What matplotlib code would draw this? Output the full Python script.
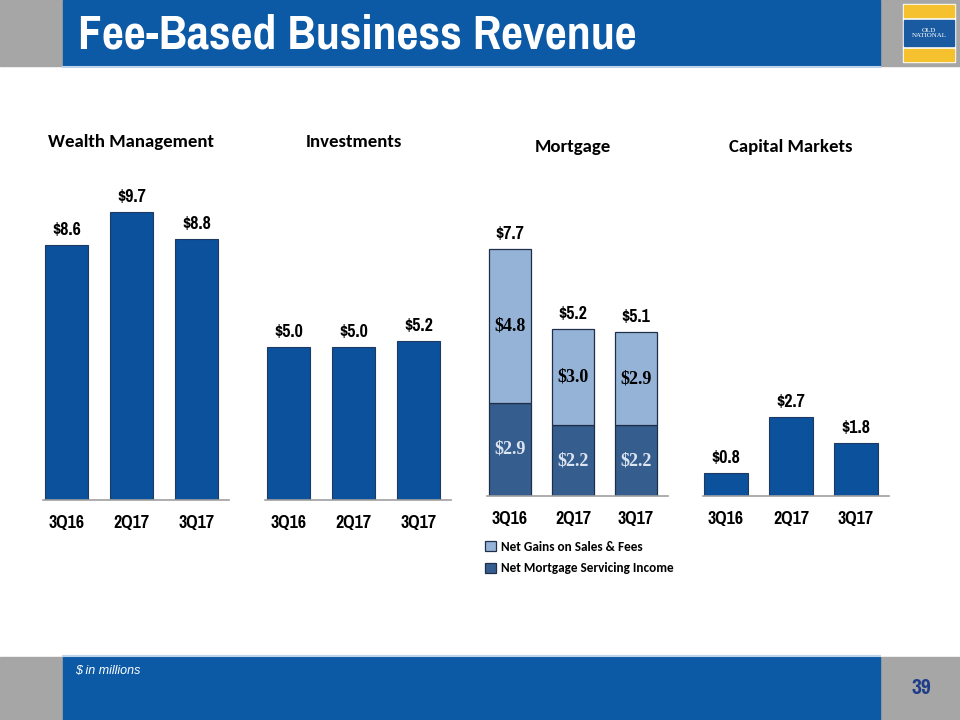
import matplotlib
matplotlib.use("Agg")
import matplotlib.pyplot as plt
from matplotlib.patches import Rectangle
from matplotlib import font_manager

# ---- data ($ in millions) ----
quarters = ["3Q16", "2Q17", "3Q17"]
wealth = [8.6, 9.7, 8.8]
investments = [5.0, 5.0, 5.2]
mort_servicing = [2.9, 2.2, 2.2]
mort_gains = [4.8, 3.0, 2.9]
mort_total = [7.7, 5.2, 5.1]
capital = [0.8, 2.7, 1.8]

names = {f.name for f in font_manager.fontManager.ttflist}


def pick(cands):
    for c in cands:
        if c in names:
            return c
    return "DejaVu Sans"


NARROW = pick(["Liberation Sans Narrow", "Arial Narrow", "Pragati Narrow",
               "Archivo Narrow", "Roboto Condensed", "PT Sans Narrow",
               "Open Sans Condensed"])
TITLEF = pick(["Carlito", "Calibri", "Lato", "Open Sans"])
SERIF = pick(["Liberation Serif", "Tinos", "DejaVu Serif"])

BLUE = "#0B519C"
DARK = "#355E8E"
LIGHT = "#95B3D7"
HEAD = "#0C5AA6"
GREY = "#A6A6A6"

W, H = 960, 720
fig = plt.figure(figsize=(9.6, 7.2), dpi=100)
fig.patch.set_facecolor("white")

# background layer in pixel coords
bg = fig.add_axes([0, 0, 1, 1], zorder=0)
bg.set_xlim(0, W)
bg.set_ylim(H, 0)
bg.axis("off")

bg.add_patch(Rectangle((0, 0), W, 66, color=GREY))
bg.add_patch(Rectangle((63, 0), 817, 66, color=HEAD))
bg.add_patch(Rectangle((0, 657), W, 63, color=GREY))
bg.add_patch(Rectangle((63, 657), 817, 63, color=HEAD))
bg.plot([63, 880], [67, 67], color="#BFD3EA", lw=1.5)
bg.plot([63, 880], [656, 656], color="#BFD3EA", lw=1.5)

# logo
bg.add_patch(Rectangle((903, 4), 52, 58, color="white"))
bg.add_patch(Rectangle((904, 5), 50, 12, color="#F5C12E"))
bg.add_patch(Rectangle((904, 49), 50, 12, color="#F5C12E"))
bg.add_patch(Rectangle((904, 20), 50, 26, color="#1A5AA0"))
bg.text(929, 33, "OLD\nNATIONAL", color="white", fontsize=5, family=SERIF,
        ha="center", va="center", linespacing=1.0)

bg.text(78, 35, "Fee-Based Business Revenue", color="white", fontsize=37.5,
        fontweight="bold", family=NARROW, va="center", ha="left")
bg.text(75, 671, "$ in millions", color="white", fontsize=9, style="italic",
        family="Liberation Sans", va="center")
bg.text(921, 688, "39", color="#1F3C88", fontsize=17, fontweight="bold",
        family=NARROW, ha="center", va="center")


def panel(cx0, step, baseline, scale, title, title_y):
    # axes spanning from baseline up to y=170 px
    top_px = 170
    left = cx0 - 0.36 * step
    right = cx0 + 2.5 * step
    ax = fig.add_axes([left / W, 1 - baseline / H, (right - left) / W,
                       (baseline - top_px) / H], zorder=1)
    ax.set_xlim(-0.36, 2.5)
    ax.set_ylim(0, (baseline - top_px) / scale)
    ax.patch.set_alpha(0)
    for s in ["top", "right", "left"]:
        ax.spines[s].set_visible(False)
    ax.spines["bottom"].set_color("#A0A0A0")
    ax.spines["bottom"].set_linewidth(1.2)
    ax.set_yticks([])
    ax.set_xticks(range(len(quarters)))
    ax.set_xticklabels(quarters, fontsize=14, fontweight="bold", family=NARROW)
    ax.tick_params(axis="x", length=0, pad=11)
    bg.text(cx0 + step, title_y, title, fontsize=13.5, fontweight="bold",
            family=TITLEF, ha="center", va="center", color="black")
    return ax


def simple(ax, vals):
    bars = ax.bar(range(len(vals)), vals, width=0.67, color=BLUE,
                  edgecolor="#1F3A60", linewidth=0.8)
    for b, v in zip(bars, vals):
        ax.annotate(f"${v:.1f}", (b.get_x() + b.get_width() / 2, v),
                    xytext=(0, 5), textcoords="offset points", ha="center",
                    va="bottom", fontsize=14, fontweight="bold", family=NARROW)


ax1 = panel(66.5, 65, 500, 29.7, "Wealth Management", 142)
simple(ax1, wealth)

ax2 = panel(288.5, 65, 500, 30.6, "Investments", 142)
simple(ax2, investments)

ax4 = panel(726, 65, 496, 29.3, "Capital Markets", 147)
simple(ax4, capital)

ax3 = panel(510, 63, 496, 32.1, "Mortgage", 147)
x = range(len(quarters))
b1 = ax3.bar(x, mort_servicing, width=0.67, color=DARK, edgecolor="#1F2F4A",
             linewidth=0.9, label="Net Mortgage Servicing Income")
b2 = ax3.bar(x, mort_gains, width=0.67, bottom=mort_servicing, color=LIGHT,
             edgecolor="#1F2F4A", linewidth=0.9, label="Net Gains on Sales & Fees")
for i in x:
    ax3.text(i, mort_servicing[i] / 2, f"${mort_servicing[i]:.1f}", ha="center",
             va="center", fontsize=13, fontweight="bold", family=SERIF,
             color="#DCE4F0")
    ax3.text(i, mort_servicing[i] + mort_gains[i] / 2, f"${mort_gains[i]:.1f}",
             ha="center", va="center", fontsize=13, fontweight="bold",
             family=SERIF, color="black")
    ax3.annotate(f"${mort_total[i]:.1f}", (i, mort_total[i]), xytext=(0, 5),
                 textcoords="offset points", ha="center", va="bottom",
                 fontsize=14, fontweight="bold", family=NARROW)
leg = ax3.legend(handles=[b2, b1], loc="upper left",
                 bbox_to_anchor=(485 / W, 1 - 541 / H),
                 bbox_transform=fig.transFigure, frameon=False,
                 prop={"family": TITLEF, "weight": "bold", "size": 9.5},
                 handlelength=0.8, handleheight=0.8, handletextpad=0.4,
                 labelspacing=0.7, borderaxespad=0, borderpad=0)

fig.savefig("out.png", dpi=100)
